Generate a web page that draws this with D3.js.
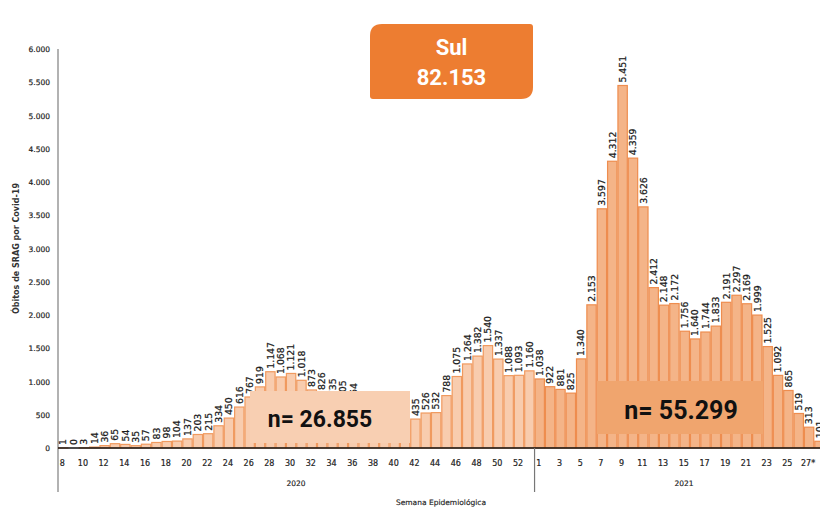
<!DOCTYPE html>
<html><head><meta charset="utf-8">
<script src="https://cdn.jsdelivr.net/npm/d3@7"></script>
<style>body{margin:0;background:#fff}svg{display:block}</style>
</head><body><svg id="c" width="820" height="508"></svg>
<script>
const weeks2020 = d3.range(8, 54);
const values2020 = [1,0,3,14,36,65,54,35,57,83,98,104,137,203,215,334,450,616,767,919,1147,1068,1121,1018,873,826,735,705,664,548,497,440,410,392,435,526,532,788,1075,1264,1382,1540,1337,1088,1093,1160];
const weeks2021 = d3.range(1, 29);
const values2021 = [1038,922,881,825,1340,2153,3597,4312,5451,4359,3626,2412,2148,2172,1756,1640,1744,1833,2191,2297,2169,1999,1525,1092,865,519,313,101];
const yTicks = [0,500,1000,1500,2000,2500,3000,3500,4000,4500,5000,5500,6000];
const years = ["2020","2021"];
const title = ["Sul","82.153"];
const totals = ["n= 26.855","n= 55.299"];

const data = [
  ...weeks2020.map((w,i)=>({key:"2020-"+w, year:"2020", week:w, value:values2020[i]})),
  ...weeks2021.map((w,i)=>({key:"2021-"+w, year:"2021", week:w, value:values2021[i]}))
];
const fmt = v => d3.format(",")(v).replace(/,/g,".");

const svg = d3.select("#c");
const x0 = 58, step = 10.36;
const x = d3.scaleBand().domain(data.map(d=>d.key)).range([x0, x0+step*data.length]).paddingInner(0).paddingOuter(0);
const y = d3.scaleLinear().domain([0,6000]).range([448,49]);

// y axis labels
svg.append("g").selectAll("text").data(yTicks).join("text")
  .attr("x",50).attr("y",d=>y(d)+3).attr("text-anchor","end")
  .attr("font-family","DejaVu Sans").attr("font-size",7.5).attr("fill","#222")
  .attr("stroke","#222").attr("stroke-width",0.2)
  .text(d=>fmt(d));
svg.append("line").attr("x1",x0).attr("x2",x0).attr("y1",y(6000)).attr("y2",492).attr("stroke","#999").attr("stroke-width",1.5);
svg.append("text").attr("transform",`translate(19,${y(3000)}) rotate(-90)`).attr("text-anchor","middle")
  .attr("font-family","DejaVu Sans").attr("font-weight","bold").attr("font-size",8).attr("fill","#333")
  .text("Óbitos de SRAG por Covid-19");

// bars
svg.append("g").selectAll("rect").data(data).join("rect")
  .attr("x",d=>x(d.key)+0.5).attr("width",x.bandwidth()-1)
  .attr("y",d=>y(d.value)).attr("height",d=>y(0)-y(d.value))
  .attr("fill",d=>d.year==="2020"?"#f8ccae":"#f4b488")
  .attr("stroke",d=>d.year==="2020"?"#f09a5f":"#ee8d4f").attr("stroke-width",1.2);

// value labels
svg.append("g").selectAll("text").data(data).join("text")
  .attr("transform",d=>`translate(${x(d.key)+x.bandwidth()/2+3.3},${y(d.value)-3}) rotate(-90)`)
  .attr("font-family","DejaVu Sans").attr("font-size",9.3).attr("fill","#1a1a1a")
  .attr("stroke","#1a1a1a").attr("stroke-width",0.25)
  .text(d=>fmt(d.value));

// x axis
svg.append("line").attr("x1",x0).attr("x2",820).attr("y1",y(0)).attr("y2",y(0)).attr("stroke","#111").attr("stroke-width",1.5);
const sep = x("2021-1");
svg.append("line").attr("x1",sep).attr("x2",sep).attr("y1",y(0)).attr("y2",492).attr("stroke","#777").attr("stroke-width",1.2);
const tickData = data.filter(d=>(d.year==="2020"&&d.week%2===0)||(d.year==="2021"&&d.week%2===1&&d.week<=27));
svg.append("g").selectAll("text").data(tickData).join("text")
  .attr("x",d=>x(d.key)+x.bandwidth()/2-1).attr("y",466).attr("text-anchor","middle")
  .attr("font-family","DejaVu Sans").attr("font-size",8).attr("fill","#222")
  .attr("stroke","#222").attr("stroke-width",0.2)
  .text(d=>d.year==="2021"&&d.week===27?"27*":d.week);
svg.append("g").selectAll("text").data(years).join("text")
  .attr("x",(d,i)=>i===0?296:684).attr("y",486).attr("text-anchor","middle")
  .attr("font-family","DejaVu Sans").attr("font-size",7.5).attr("fill","#222")
  .attr("stroke","#222").attr("stroke-width",0.15).text(d=>d);
svg.append("text").attr("x",441).attr("y",505).attr("text-anchor","middle")
  .attr("font-family","DejaVu Sans").attr("font-size",7.5).attr("fill","#222")
  .attr("stroke","#222").attr("stroke-width",0.15).text("Semana Epidemiológica");

// n boxes
svg.append("rect").attr("x",250).attr("y",391).attr("width",160).attr("height",52).attr("fill","#f8cfb2");
svg.append("text").attr("x",320).attr("y",427).attr("text-anchor","middle")
  .attr("font-family","Roboto").attr("font-weight","bold").attr("font-size",23).attr("fill","#111").text(totals[0]);
svg.append("rect").attr("x",597).attr("y",381).attr("width",166).attr("height",53).attr("fill","#f0a56e");
svg.append("text").attr("x",681).attr("y",419).attr("text-anchor","middle")
  .attr("font-family","Roboto").attr("font-weight","bold").attr("font-size",25).attr("fill","#111").text(totals[1]);

// title box
const bx=370, by=24, bw=163, bh=75, rBig=12, rSm=3;
svg.append("path").attr("d",`M${bx+rBig},${by} H${bx+bw-rSm} Q${bx+bw},${by} ${bx+bw},${by+rSm} V${by+bh-rBig} Q${bx+bw},${by+bh} ${bx+bw-rBig},${by+bh} H${bx+rSm} Q${bx},${by+bh} ${bx},${by+bh-rSm} V${by+rBig} Q${bx},${by} ${bx+rBig},${by} Z`)
  .attr("fill","#ed7d31");
svg.append("g").selectAll("text").data(title).join("text")
  .attr("x",bx+bw/2).attr("y",(d,i)=>i===0?55:85).attr("text-anchor","middle")
  .attr("font-family","Roboto").attr("font-weight","bold").attr("font-size",22).attr("fill","#fff").text(d=>d);
</script></body></html>
